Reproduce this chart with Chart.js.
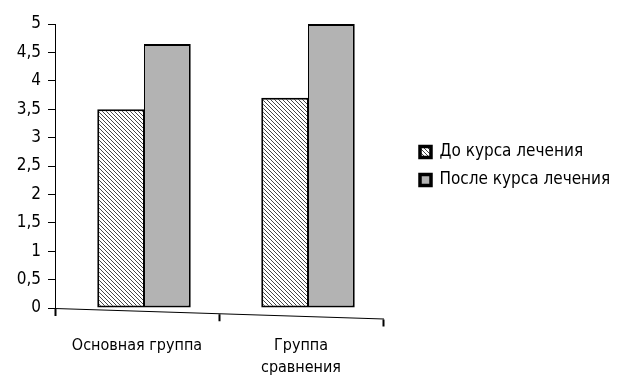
<!DOCTYPE html>
<html>
<head>
<meta charset="utf-8">
<script src="https://cdn.jsdelivr.net/npm/chart.js@4/dist/chart.umd.min.js"></script>
<style>
  html, body { margin: 0; padding: 0; background: #fff; }
  #wrap { width: 618px; height: 381px; }
</style>
</head>
<body>
<div id="wrap"><canvas id="c" width="618" height="381"></canvas></div>
<script>
const categories = ['Основная группа', ['Группа', 'сравнения']];
const seriesNames = ['До курса лечения', 'После курса лечения'];
const beforeValues = [3.5, 3.7];
const afterValues = [4.65, 5.0];
const yTickLabels = ['0', '0,5', '1', '1,5', '2', '2,5', '3', '3,5', '4', '4,5', '5'];

const FONT = "'Liberation Sans Narrow', 'DejaVu Sans Condensed', 'Roboto Condensed', sans-serif";

// diagonal hatch tile: "\" lines, crisp one-pixel strokes
function hatchPattern() {
  const n = 4;
  const t = document.createElement('canvas');
  t.width = n; t.height = n;
  const g = t.getContext('2d');
  const img = g.createImageData(n, n);
  for (let y = 0; y < n; y++) {
    for (let x = 0; x < n; x++) {
      const i = (y * n + x) * 4;
      const dark = ((x - y) % n + n) % n === 0;
      const v = dark ? 70 : 255;
      img.data[i] = v; img.data[i + 1] = v; img.data[i + 2] = v; img.data[i + 3] = 255;
    }
  }
  g.putImageData(img, 0, 0);
  return document.getElementById('c').getContext('2d').createPattern(t, 'repeat');
}

// category axis whose baseline and ticks lean slightly downward to the right
const TILT = 0.032;
class TiltedCategoryScale extends Chart.CategoryScale {
  _tilt(fn) {
    const ctx = this.ctx;
    const x0 = this.left;
    ctx.save();
    ctx.transform(1, TILT, 0, 1, 0, -TILT * x0);
    fn();
    ctx.restore();
  }
  drawGrid(area) { this._tilt(() => super.drawGrid(area)); }
  drawBorder() { this._tilt(() => super.drawBorder()); }
}
TiltedCategoryScale.id = 'tiltedCategory';
TiltedCategoryScale.defaults = Chart.CategoryScale.defaults;
Chart.register(TiltedCategoryScale);

// bars stand a little to the right of the category centres (depth offset)
const depthShift = {
  id: 'depthShift',
  beforeDatasetsDraw(chart) { chart.ctx.save(); chart.ctx.translate(7, 0); },
  afterDatasetsDraw(chart) { chart.ctx.restore(); }
};

const hatch = hatchPattern();

new Chart(document.getElementById('c'), {
  type: 'bar',
  data: {
    labels: categories,
    datasets: [
      {
        label: seriesNames[0],
        data: beforeValues,
        backgroundColor: hatch,
        borderColor: '#000',
        borderWidth: { left: 2, right: 1, top: 2, bottom: 2 },
        borderSkipped: false
      },
      {
        label: seriesNames[1],
        data: afterValues,
        backgroundColor: '#b3b3b3',
        borderColor: '#000',
        borderWidth: { left: 1, right: 2, top: 2, bottom: 2 },
        borderSkipped: false
      }
    ]
  },
  plugins: [depthShift],
  options: {
    responsive: false,
    animation: false,
    devicePixelRatio: 1,
    layout: { padding: { left: 0, top: 24, right: 0, bottom: 0 } },
    datasets: {
      bar: { categoryPercentage: 0.57, barPercentage: 1.0 }
    },
    scales: {
      x: {
        type: 'tiltedCategory',
        offset: true,
        border: { display: true, color: '#000', width: 1 },
        grid: {
          display: true,
          offset: true,
          drawOnChartArea: false,
          drawTicks: true,
          tickLength: 8,
          tickWidth: 2,
          tickColor: '#000'
        },
        ticks: {
          color: '#000',
          padding: 19,
          maxRotation: 0,
          font: { family: FONT, size: 16, lineHeight: 1.375 }
        },
        afterFit(scale) { scale.height = 73; }
      },
      y: {
        min: 0,
        max: 5,
        border: { display: true, color: '#000', width: 1 },
        grid: {
          display: true,
          drawOnChartArea: false,
          drawTicks: true,
          tickLength: 7,
          tickColor: '#000'
        },
        ticks: {
          stepSize: 0.5,
          color: '#000',
          padding: 7,
          font: { family: FONT, size: 17 },
          callback: (v, i) => yTickLabels[i]
        },
        afterFit(scale) { scale.width = 55; }
      },
      // empty right-hand gutter between the plot and the legend
      gutter: {
        type: 'linear',
        position: 'right',
        display: true,
        grid: { display: false },
        border: { display: false },
        ticks: { display: false },
        afterFit(scale) { scale.width = 26; }
      }
    },
    plugins: {
      tooltip: { enabled: false },
      legend: {
        position: 'right',
        fullSize: false,
        maxWidth: 209,
        labels: {
          color: '#000',
          boxWidth: 11,
          boxHeight: 11,
          padding: 11,
          font: { family: FONT, size: 17 },
          generateLabels(chart) {
            return chart.data.datasets.map((ds, i) => ({
              text: ds.label,
              fillStyle: ds.backgroundColor,
              strokeStyle: '#000',
              lineWidth: 3.5,
              hidden: false,
              datasetIndex: i
            }));
          }
        }
      }
    }
  }
});
</script>
</body>
</html>
